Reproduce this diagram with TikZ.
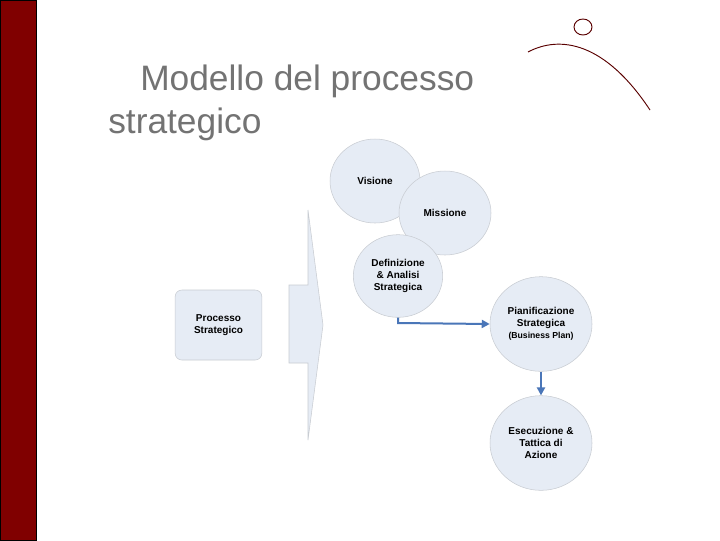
\documentclass[tikz,border=0pt]{standalone}
\usepackage{fontspec}
\setmainfont{Liberation Sans}
\usetikzlibrary{arrows.meta,shapes.geometric}
\definecolor{fillb}{HTML}{E6ECF5}
\definecolor{bordg}{HTML}{C8CCD2}
\definecolor{arrb}{HTML}{4A76B8}
\definecolor{darkred}{HTML}{800000}
\begin{document}
\begin{tikzpicture}[x=0.75pt,y=-0.75pt,
  bub/.style={ellipse,fill=fillb,draw=bordg,inner sep=0pt,font=\bfseries\fontsize{7.5}{9}\selectfont,align=center},
  conn/.style={draw=arrb,line width=1.5pt,-{Triangle[length=6pt,width=6pt]}}]
\useasboundingbox (0,0) rectangle (720,540);
\fill[white] (0,0) rectangle (720,540);
\filldraw[fill=darkred,draw=black] (0,0) rectangle (36,540);
\node[anchor=base west,inner sep=0pt,text=gray!90!black,font=\fontsize{26.5}{30}\selectfont] (t1) at (140,90) {Modello del processo};
\node[anchor=base west,inner sep=0pt,text=gray!90!black,font=\fontsize{26.5}{30}\selectfont] (t2) at (108,133) {strategico};
\draw[darkred!70!black,line width=0.7pt] (583,27) ellipse (9 and 8);
\draw[darkred!70!black,line width=0.7pt] (528,52) .. controls (560,35) and (605,42) .. (650,110);
\node[bub,minimum width=67.5pt,minimum height=63pt] (vis) at (375,181) {Visione};
\node[bub,minimum width=69pt,minimum height=63pt] (mis) at (445,213) {Missione};
\node[bub,minimum width=67pt,minimum height=62pt] (def) at (398,276) {Definizione\\\& Analisi\\Strategica};
\node[bub,minimum width=76.5pt,minimum height=71pt] (pia) at (541,324) {Pianificazione\\Strategica\\{\fontsize{6.5}{8}\selectfont(Business Plan)}};
\node[bub,minimum width=76.5pt,minimum height=71pt] (ese) at (541,443) {Esecuzione \&\\Tattica di\\Azione};
\node[draw=bordg,fill=fillb,rounded corners=5pt,minimum width=65pt,minimum height=52.5pt,font=\bfseries\fontsize{7.5}{9}\selectfont,align=center] (pro) at (218.5,325) {Processo\\Strategico};
\filldraw[fill=fillb,draw=bordg] (289,285) -- (308,285) -- (308,210) -- (323,325) -- (308,440) -- (308,363) -- (289,363) -- cycle;
\coordinate (c1) at (398,323);
\draw[conn] (def.south) -- (c1) -- (pia.west);
\draw[conn] (pia.south) -- (ese.north);
\end{tikzpicture}
\end{document}
